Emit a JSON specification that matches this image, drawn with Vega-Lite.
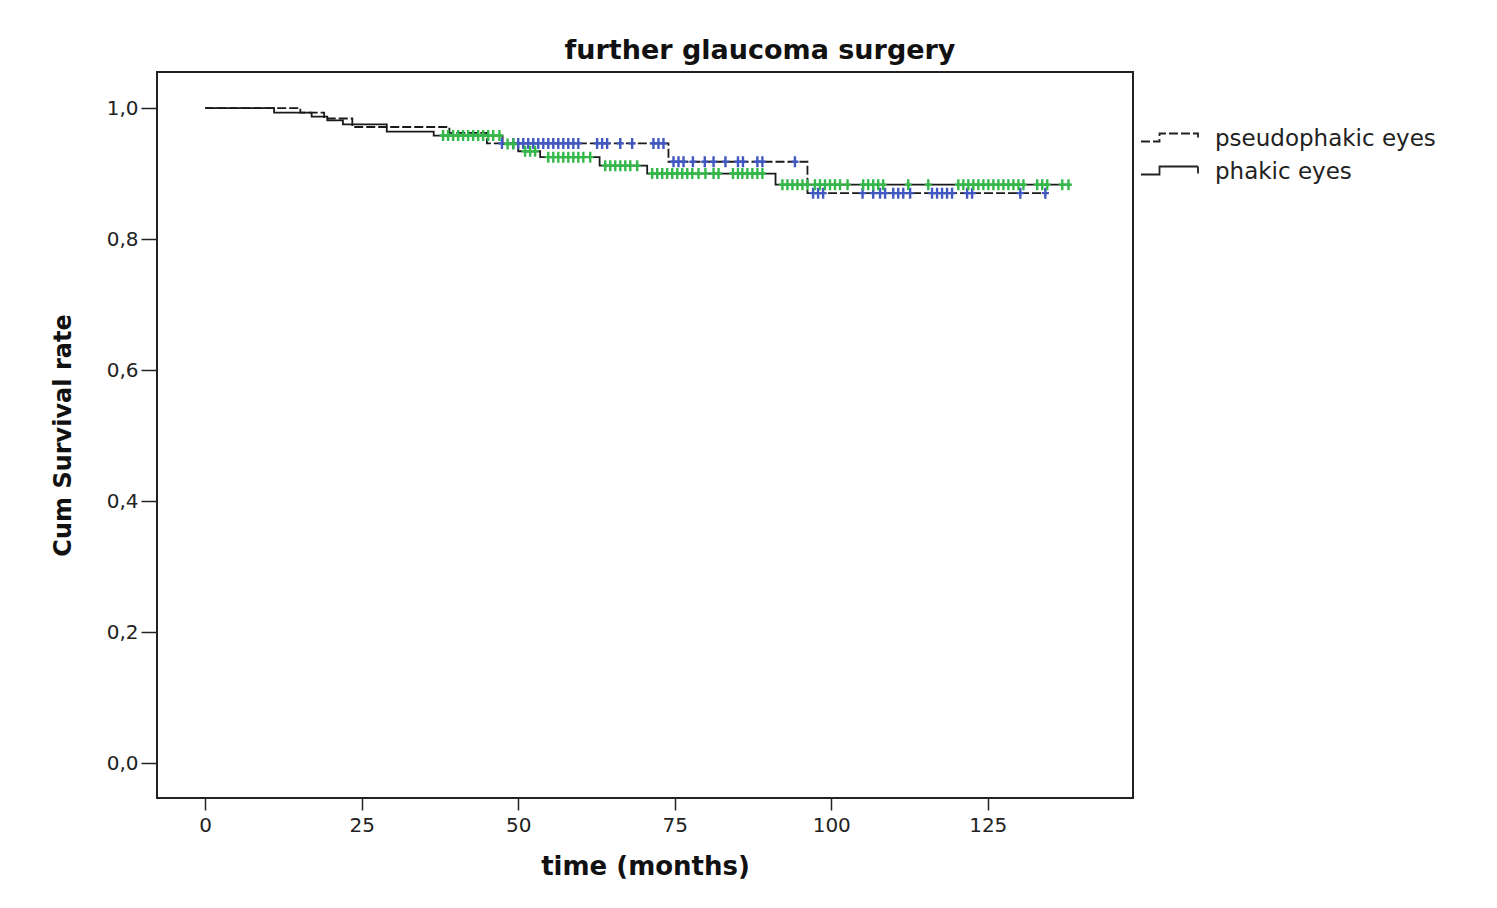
{
  "$schema": "https://vega.github.io/schema/vega-lite/v6.json",
  "width": 976,
  "height": 726,
  "autosize": "none",
  "padding": {"left": 157, "top": 72, "right": 364, "bottom": 110},
  "background": "white",
  "config": {
    "view": {"stroke": "#222222", "strokeWidth": 2},
    "font": "DejaVu Sans"
  },
  "title": {
    "text": "further glaucoma surgery",
    "fontSize": 27,
    "fontWeight": "bold",
    "font": "DejaVu Sans",
    "color": "#111111",
    "anchor": "middle",
    "dx": 115,
    "offset": 7
  },
  "datasets": {
    "curves": [
      {"group": "pseudophakic eyes", "t": 0, "S": 1.0},
      {"group": "pseudophakic eyes", "t": 15.2, "S": 0.993},
      {"group": "pseudophakic eyes", "t": 19, "S": 0.984},
      {"group": "pseudophakic eyes", "t": 23.5, "S": 0.971},
      {"group": "pseudophakic eyes", "t": 39, "S": 0.962},
      {"group": "pseudophakic eyes", "t": 45, "S": 0.946},
      {"group": "pseudophakic eyes", "t": 74, "S": 0.918},
      {"group": "pseudophakic eyes", "t": 96.2, "S": 0.870},
      {"group": "pseudophakic eyes", "t": 134.2, "S": 0.870},
      {"group": "phakic eyes", "t": 0, "S": 1.0},
      {"group": "phakic eyes", "t": 11, "S": 0.993},
      {"group": "phakic eyes", "t": 17, "S": 0.987},
      {"group": "phakic eyes", "t": 19.5, "S": 0.981},
      {"group": "phakic eyes", "t": 22, "S": 0.975},
      {"group": "phakic eyes", "t": 29, "S": 0.964},
      {"group": "phakic eyes", "t": 36.5, "S": 0.958},
      {"group": "phakic eyes", "t": 47.5, "S": 0.945},
      {"group": "phakic eyes", "t": 50, "S": 0.934},
      {"group": "phakic eyes", "t": 53.5, "S": 0.925},
      {"group": "phakic eyes", "t": 63, "S": 0.912},
      {"group": "phakic eyes", "t": 70.6, "S": 0.900},
      {"group": "phakic eyes", "t": 91.1, "S": 0.883},
      {"group": "phakic eyes", "t": 138.2, "S": 0.883}
    ],
    "censored": [
      {"group": "pseudophakic eyes", "t": 47.4, "S": 0.946},
      {"group": "pseudophakic eyes", "t": 49.2, "S": 0.946},
      {"group": "pseudophakic eyes", "t": 50.0, "S": 0.946},
      {"group": "pseudophakic eyes", "t": 50.8, "S": 0.946},
      {"group": "pseudophakic eyes", "t": 51.6, "S": 0.946},
      {"group": "pseudophakic eyes", "t": 52.4, "S": 0.946},
      {"group": "pseudophakic eyes", "t": 53.2, "S": 0.946},
      {"group": "pseudophakic eyes", "t": 54.0, "S": 0.946},
      {"group": "pseudophakic eyes", "t": 54.8, "S": 0.946},
      {"group": "pseudophakic eyes", "t": 55.6, "S": 0.946},
      {"group": "pseudophakic eyes", "t": 56.4, "S": 0.946},
      {"group": "pseudophakic eyes", "t": 57.2, "S": 0.946},
      {"group": "pseudophakic eyes", "t": 58.0, "S": 0.946},
      {"group": "pseudophakic eyes", "t": 58.8, "S": 0.946},
      {"group": "pseudophakic eyes", "t": 59.6, "S": 0.946},
      {"group": "pseudophakic eyes", "t": 62.6, "S": 0.946},
      {"group": "pseudophakic eyes", "t": 63.4, "S": 0.946},
      {"group": "pseudophakic eyes", "t": 64.2, "S": 0.946},
      {"group": "pseudophakic eyes", "t": 66.3, "S": 0.946},
      {"group": "pseudophakic eyes", "t": 68.2, "S": 0.946},
      {"group": "pseudophakic eyes", "t": 71.6, "S": 0.946},
      {"group": "pseudophakic eyes", "t": 72.4, "S": 0.946},
      {"group": "pseudophakic eyes", "t": 73.2, "S": 0.946},
      {"group": "pseudophakic eyes", "t": 74.8, "S": 0.918},
      {"group": "pseudophakic eyes", "t": 75.6, "S": 0.918},
      {"group": "pseudophakic eyes", "t": 76.4, "S": 0.918},
      {"group": "pseudophakic eyes", "t": 77.9, "S": 0.918},
      {"group": "pseudophakic eyes", "t": 79.8, "S": 0.918},
      {"group": "pseudophakic eyes", "t": 81.2, "S": 0.918},
      {"group": "pseudophakic eyes", "t": 83.1, "S": 0.918},
      {"group": "pseudophakic eyes", "t": 85.1, "S": 0.918},
      {"group": "pseudophakic eyes", "t": 85.9, "S": 0.918},
      {"group": "pseudophakic eyes", "t": 88.2, "S": 0.918},
      {"group": "pseudophakic eyes", "t": 89.0, "S": 0.918},
      {"group": "pseudophakic eyes", "t": 94.2, "S": 0.918},
      {"group": "pseudophakic eyes", "t": 97.1, "S": 0.870},
      {"group": "pseudophakic eyes", "t": 97.9, "S": 0.870},
      {"group": "pseudophakic eyes", "t": 98.7, "S": 0.870},
      {"group": "pseudophakic eyes", "t": 105.0, "S": 0.870},
      {"group": "pseudophakic eyes", "t": 106.7, "S": 0.870},
      {"group": "pseudophakic eyes", "t": 107.8, "S": 0.870},
      {"group": "pseudophakic eyes", "t": 108.6, "S": 0.870},
      {"group": "pseudophakic eyes", "t": 109.9, "S": 0.870},
      {"group": "pseudophakic eyes", "t": 110.7, "S": 0.870},
      {"group": "pseudophakic eyes", "t": 111.5, "S": 0.870},
      {"group": "pseudophakic eyes", "t": 112.6, "S": 0.870},
      {"group": "pseudophakic eyes", "t": 116.1, "S": 0.870},
      {"group": "pseudophakic eyes", "t": 116.9, "S": 0.870},
      {"group": "pseudophakic eyes", "t": 117.7, "S": 0.870},
      {"group": "pseudophakic eyes", "t": 118.5, "S": 0.870},
      {"group": "pseudophakic eyes", "t": 119.3, "S": 0.870},
      {"group": "pseudophakic eyes", "t": 121.7, "S": 0.870},
      {"group": "pseudophakic eyes", "t": 122.5, "S": 0.870},
      {"group": "pseudophakic eyes", "t": 130.2, "S": 0.870},
      {"group": "pseudophakic eyes", "t": 134.2, "S": 0.870},
      {"group": "phakic eyes", "t": 38.0, "S": 0.958},
      {"group": "phakic eyes", "t": 38.8, "S": 0.958},
      {"group": "phakic eyes", "t": 39.6, "S": 0.958},
      {"group": "phakic eyes", "t": 40.4, "S": 0.958},
      {"group": "phakic eyes", "t": 41.2, "S": 0.958},
      {"group": "phakic eyes", "t": 42.0, "S": 0.958},
      {"group": "phakic eyes", "t": 42.8, "S": 0.958},
      {"group": "phakic eyes", "t": 43.6, "S": 0.958},
      {"group": "phakic eyes", "t": 44.4, "S": 0.958},
      {"group": "phakic eyes", "t": 45.2, "S": 0.958},
      {"group": "phakic eyes", "t": 46.0, "S": 0.958},
      {"group": "phakic eyes", "t": 47.0, "S": 0.958},
      {"group": "phakic eyes", "t": 48.3, "S": 0.945},
      {"group": "phakic eyes", "t": 49.2, "S": 0.945},
      {"group": "phakic eyes", "t": 51.1, "S": 0.934},
      {"group": "phakic eyes", "t": 51.9, "S": 0.934},
      {"group": "phakic eyes", "t": 52.7, "S": 0.934},
      {"group": "phakic eyes", "t": 54.8, "S": 0.925},
      {"group": "phakic eyes", "t": 55.6, "S": 0.925},
      {"group": "phakic eyes", "t": 56.4, "S": 0.925},
      {"group": "phakic eyes", "t": 57.2, "S": 0.925},
      {"group": "phakic eyes", "t": 58.0, "S": 0.925},
      {"group": "phakic eyes", "t": 58.8, "S": 0.925},
      {"group": "phakic eyes", "t": 59.6, "S": 0.925},
      {"group": "phakic eyes", "t": 60.4, "S": 0.925},
      {"group": "phakic eyes", "t": 61.5, "S": 0.925},
      {"group": "phakic eyes", "t": 63.9, "S": 0.912},
      {"group": "phakic eyes", "t": 64.7, "S": 0.912},
      {"group": "phakic eyes", "t": 65.5, "S": 0.912},
      {"group": "phakic eyes", "t": 66.3, "S": 0.912},
      {"group": "phakic eyes", "t": 67.1, "S": 0.912},
      {"group": "phakic eyes", "t": 67.9, "S": 0.912},
      {"group": "phakic eyes", "t": 69.0, "S": 0.912},
      {"group": "phakic eyes", "t": 71.4, "S": 0.900},
      {"group": "phakic eyes", "t": 72.2, "S": 0.900},
      {"group": "phakic eyes", "t": 73.0, "S": 0.900},
      {"group": "phakic eyes", "t": 73.8, "S": 0.900},
      {"group": "phakic eyes", "t": 74.6, "S": 0.900},
      {"group": "phakic eyes", "t": 75.4, "S": 0.900},
      {"group": "phakic eyes", "t": 76.2, "S": 0.900},
      {"group": "phakic eyes", "t": 77.0, "S": 0.900},
      {"group": "phakic eyes", "t": 77.8, "S": 0.900},
      {"group": "phakic eyes", "t": 78.8, "S": 0.900},
      {"group": "phakic eyes", "t": 79.9, "S": 0.900},
      {"group": "phakic eyes", "t": 81.2, "S": 0.900},
      {"group": "phakic eyes", "t": 82.0, "S": 0.900},
      {"group": "phakic eyes", "t": 84.3, "S": 0.900},
      {"group": "phakic eyes", "t": 85.1, "S": 0.900},
      {"group": "phakic eyes", "t": 85.8, "S": 0.900},
      {"group": "phakic eyes", "t": 86.6, "S": 0.900},
      {"group": "phakic eyes", "t": 87.4, "S": 0.900},
      {"group": "phakic eyes", "t": 88.2, "S": 0.900},
      {"group": "phakic eyes", "t": 89.0, "S": 0.900},
      {"group": "phakic eyes", "t": 92.2, "S": 0.883},
      {"group": "phakic eyes", "t": 93.0, "S": 0.883},
      {"group": "phakic eyes", "t": 93.8, "S": 0.883},
      {"group": "phakic eyes", "t": 94.6, "S": 0.883},
      {"group": "phakic eyes", "t": 95.4, "S": 0.883},
      {"group": "phakic eyes", "t": 96.2, "S": 0.883},
      {"group": "phakic eyes", "t": 97.4, "S": 0.883},
      {"group": "phakic eyes", "t": 98.2, "S": 0.883},
      {"group": "phakic eyes", "t": 99.0, "S": 0.883},
      {"group": "phakic eyes", "t": 99.8, "S": 0.883},
      {"group": "phakic eyes", "t": 100.6, "S": 0.883},
      {"group": "phakic eyes", "t": 101.4, "S": 0.883},
      {"group": "phakic eyes", "t": 102.6, "S": 0.883},
      {"group": "phakic eyes", "t": 105.1, "S": 0.883},
      {"group": "phakic eyes", "t": 105.9, "S": 0.883},
      {"group": "phakic eyes", "t": 106.7, "S": 0.883},
      {"group": "phakic eyes", "t": 107.5, "S": 0.883},
      {"group": "phakic eyes", "t": 108.3, "S": 0.883},
      {"group": "phakic eyes", "t": 112.3, "S": 0.883},
      {"group": "phakic eyes", "t": 115.5, "S": 0.883},
      {"group": "phakic eyes", "t": 120.3, "S": 0.883},
      {"group": "phakic eyes", "t": 121.1, "S": 0.883},
      {"group": "phakic eyes", "t": 121.9, "S": 0.883},
      {"group": "phakic eyes", "t": 122.7, "S": 0.883},
      {"group": "phakic eyes", "t": 123.5, "S": 0.883},
      {"group": "phakic eyes", "t": 124.3, "S": 0.883},
      {"group": "phakic eyes", "t": 125.1, "S": 0.883},
      {"group": "phakic eyes", "t": 125.9, "S": 0.883},
      {"group": "phakic eyes", "t": 126.7, "S": 0.883},
      {"group": "phakic eyes", "t": 127.5, "S": 0.883},
      {"group": "phakic eyes", "t": 128.3, "S": 0.883},
      {"group": "phakic eyes", "t": 129.1, "S": 0.883},
      {"group": "phakic eyes", "t": 129.9, "S": 0.883},
      {"group": "phakic eyes", "t": 130.7, "S": 0.883},
      {"group": "phakic eyes", "t": 132.9, "S": 0.883},
      {"group": "phakic eyes", "t": 133.7, "S": 0.883},
      {"group": "phakic eyes", "t": 134.5, "S": 0.883},
      {"group": "phakic eyes", "t": 136.9, "S": 0.883},
      {"group": "phakic eyes", "t": 137.9, "S": 0.883}
    ]
  },
  "encoding": {
    "x": {
      "field": "t",
      "type": "quantitative",
      "scale": {"domain": [-7.7, 148.2], "nice": false, "zero": false},
      "axis": {
        "title": "time (months)",
        "values": [0, 25, 50, 75, 100, 125],
        "format": "d",
        "domain": false,
        "grid": false,
        "tickSize": 12,
        "tickWidth": 1.5,
        "tickColor": "#222222",
        "labelFontSize": 20,
        "labelFont": "DejaVu Sans",
        "labelColor": "#222222",
        "labelPadding": 5,
        "titleFontSize": 26,
        "titleFont": "DejaVu Sans",
        "titleFontWeight": "bold",
        "titleColor": "#111111",
        "titlePadding": 18
      }
    },
    "y": {
      "field": "S",
      "type": "quantitative",
      "scale": {"domain": [-0.0534, 1.055], "nice": false, "zero": false},
      "axis": {
        "title": "Cum Survival rate",
        "values": [0, 0.2, 0.4, 0.6, 0.8, 1.0],
        "labelExpr": "replace(format(datum.value, '.1f'), '.', ',')",
        "domain": false,
        "grid": false,
        "tickSize": 16,
        "tickWidth": 1.5,
        "tickColor": "#222222",
        "labelFontSize": 20,
        "labelFont": "DejaVu Sans",
        "labelColor": "#222222",
        "labelPadding": 3,
        "titleFontSize": 24,
        "titleFont": "DejaVu Sans",
        "titleFontWeight": "bold",
        "titleColor": "#111111",
        "titlePadding": 31
      }
    }
  },
  "layer": [
    {
      "data": {"name": "curves"},
      "mark": {"type": "line", "interpolate": "step-after", "strokeWidth": 1.8, "color": "#1a1a1a"},
      "encoding": {
        "strokeDash": {
          "field": "group",
          "type": "nominal",
          "scale": {"domain": ["pseudophakic eyes", "phakic eyes"], "range": [[9, 3], [1, 0]]},
          "legend": {
            "title": null,
            "orient": "none",
            "legendX": 1001,
            "legendY": 55,
            "padding": 0,
            "symbolType": "M-2.85,0.3H-1.0V-0.5H2.85V0.2",
            "symbolSize": 400,
            "symbolStrokeWidth": 1.8,
            "symbolStrokeColor": "#222222",
            "symbolFillColor": "transparent",
            "labelFontSize": 23,
            "labelFont": "DejaVu Sans",
            "labelColor": "#222222",
            "labelOffset": 34,
            "labelLimit": 0,
            "rowPadding": 9
          }
        }
      }
    },
    {
      "data": {"name": "censored"},
      "transform": [{"filter": "datum.group === 'pseudophakic eyes'"}],
      "mark": {"type": "point", "shape": "M0,-1V1M-0.65,0H0.65", "size": 121, "strokeWidth": 2.4, "filled": false, "opacity": 1, "color": "#4058c0"}
    },
    {
      "data": {"name": "censored"},
      "transform": [{"filter": "datum.group === 'phakic eyes'"}],
      "mark": {"type": "point", "shape": "M0,-1V1M-0.65,0H0.65", "size": 121, "strokeWidth": 2.4, "filled": false, "opacity": 1, "color": "#34b84a"}
    }
  ]
}
